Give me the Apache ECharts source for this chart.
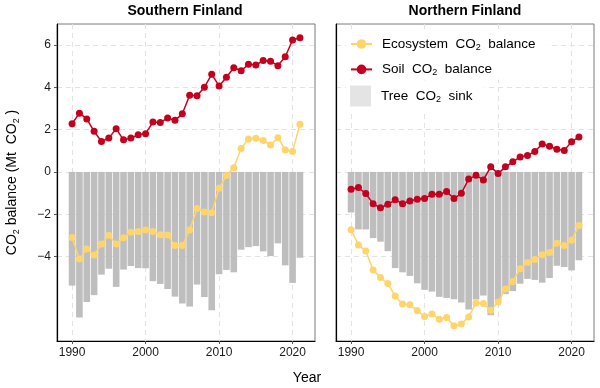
<!DOCTYPE html>
<html><head><meta charset="utf-8">
<script src="https://cdn.jsdelivr.net/npm/echarts@6/dist/echarts.min.js"></script>
<style>html,body{margin:0;padding:0;background:#fff}#c{width:600px;height:388px}</style>
</head><body><div id="c"></div>
<script>
const years = [1990,1991,1992,1993,1994,1995,1996,1997,1998,1999,2000,2001,2002,2003,2004,2005,2006,2007,2008,2009,2010,2011,2012,2013,2014,2015,2016,2017,2018,2019,2020,2021];
const southSoil = [2.28,2.78,2.51,1.92,1.44,1.60,2.04,1.52,1.60,1.76,1.81,2.36,2.34,2.55,2.44,2.75,3.63,3.61,4.01,4.62,4.07,4.48,4.93,4.79,5.09,5.06,5.27,5.24,5.03,5.45,6.24,6.35];
const southEco = [-3.10,-4.12,-3.65,-3.93,-3.41,-3.00,-3.41,-3.11,-2.85,-2.82,-2.75,-2.82,-2.97,-2.99,-3.48,-3.48,-2.75,-1.73,-1.90,-1.93,-0.77,-0.17,0.20,1.11,1.56,1.59,1.49,1.27,1.62,1.04,0.97,2.26];
const southTree = [-5.38,-6.89,-6.15,-5.83,-4.86,-4.58,-5.44,-4.62,-4.45,-4.55,-4.56,-5.17,-5.30,-5.54,-5.90,-6.23,-6.37,-5.33,-5.92,-6.54,-4.84,-4.64,-4.75,-3.68,-3.56,-3.51,-3.76,-3.98,-3.38,-4.42,-5.25,-4.06];
const northSoil = [-0.82,-0.74,-1.02,-1.51,-1.70,-1.53,-1.32,-1.50,-1.37,-1.29,-1.26,-1.06,-1.06,-0.93,-1.26,-1.01,-0.34,-0.16,-0.38,0.24,-0.08,0.24,0.48,0.71,0.78,0.97,1.32,1.21,1.07,1.02,1.43,1.65];
const northEco = [-2.74,-3.46,-3.74,-4.64,-5.00,-5.28,-5.87,-6.25,-6.29,-6.56,-6.84,-6.72,-6.97,-6.89,-7.28,-7.19,-6.86,-6.20,-6.23,-6.54,-6.15,-5.54,-5.19,-4.58,-4.28,-4.14,-3.92,-3.81,-3.37,-3.48,-3.23,-2.53];
const northTree = [-1.92,-2.72,-2.72,-3.13,-3.30,-3.75,-4.55,-4.75,-4.92,-5.27,-5.58,-5.66,-5.91,-5.96,-6.02,-6.18,-6.51,-6.04,-5.85,-6.78,-6.07,-5.78,-5.64,-5.29,-5.06,-5.11,-5.24,-5.02,-4.44,-4.50,-4.66,-4.18];
const panelTitles = ['Southern Finland','Northern Finland'];
const yTicks = [-4,-2,0,2,4,6];
const xTicks = [1990,2000,2010,2020];

const FONT = 'Liberation Sans, Arial, sans-serif';
const RED = '#c4001f', YEL = '#fed46b', GREY = '#bebebe';
const pair = (arr) => years.map((y,i)=>[y,arr[i]]);
const fmtNum = v => v < 0 ? '\u2212' + Math.abs(v) : String(v);

const grids = [
  {left:57, top:24, width:258, height:317},
  {left:336, top:24, width:258, height:317}
];
const gridOpts = grids.map(g => Object.assign({}, g, {show:true, borderColor:'#7a7a7a', borderWidth:1, backgroundColor:'transparent', containLabel:false}));

const xAxes = [0,1].map(i => ({
  type:'value', gridIndex:i, min:1987.95, max:2023.05,
  axisLine:{show:true, onZero:false, lineStyle:{color:'#000', width:1.2}},
  axisTick:{show:true, length:3, customValues:xTicks, lineStyle:{color:'#555'}},
  axisLabel:{customValues:xTicks, color:'#1a1a1a', fontSize:12, fontFamily:FONT, margin:6, formatter: v => String(v)},
  splitLine:{show:true, lineStyle:{color:'#e3e3e3', type:[5,4], width:1.1}}
}));
const yAxes = [0,1].map(i => ({
  type:'value', gridIndex:i, min:-8, max:7,
  axisLine:{show:true, onZero:false, lineStyle:{color:'#000', width:1.2}},
  axisTick:{show:i===0, length:3, customValues:yTicks, lineStyle:{color:'#555'}},
  axisLabel:{show:i===0, customValues:yTicks, color:'#1a1a1a', fontSize:12, fontFamily:FONT, margin:6, formatter:fmtNum},
  splitLine:{show:true, lineStyle:{color:'#e3e3e3', type:[5,4], width:1.1}},
  name: i===0 ? '{n|CO}{s|2}{n| balance (Mt  CO}{s|2}{n| )}' : '',
  nameLocation:'middle', nameRotate:90, nameGap:36,
  nameTextStyle:{fontFamily:FONT, color:'#000', rich:{
    n:{fontSize:14, fontFamily:FONT, color:'#000', lineHeight:18, verticalAlign:'middle'},
    s:{fontSize:9, fontFamily:FONT, color:'#000', lineHeight:18, verticalAlign:'bottom', padding:[9,0,0,0]}
  }}
}));

const series = [];
[[southTree,southSoil,southEco],[northTree,northSoil,northEco]].forEach((d,i) => {
  series.push({name:'Tree CO2 sink', type:'bar', xAxisIndex:i, yAxisIndex:i, data:pair(d[0]), barWidth:6.6, itemStyle:{color:GREY}, z:2});
  series.push({name:'Soil CO2 balance', type:'line', xAxisIndex:i, yAxisIndex:i, data:pair(d[1]), symbol:'circle', symbolSize:7, lineStyle:{color:RED, width:1.5}, itemStyle:{color:RED}, z:4});
  series.push({name:'Ecosystem CO2 balance', type:'line', xAxisIndex:i, yAxisIndex:i, data:pair(d[2]), symbol:'circle', symbolSize:7, lineStyle:{color:YEL, width:1.5}, itemStyle:{color:YEL}, z:3});
});

const legendRich = {
  g:{width:5},
  n:{fontSize:13.5, fontFamily:FONT, color:'#000', lineHeight:16},
  s:{fontSize:9, fontFamily:FONT, color:'#000', lineHeight:16, verticalAlign:'bottom', padding:[8,0,0,0]}
};
const legendFmt = name => {
  if (name === 'Ecosystem CO2 balance') return '{g|}{n|Ecosystem  CO}{s|2}{n|  balance}';
  if (name === 'Soil CO2 balance') return '{g|}{n|Soil  CO}{s|2}{n|  balance}';
  return '{g|}{n|Tree  CO}{s|2}{n|  sink}';
};

const option = {
  animation:false,
  backgroundColor:'#fff',
  textStyle:{fontFamily:FONT},
  grid: gridOpts,
  xAxis: xAxes,
  yAxis: yAxes,
  series: series,
  legend: [
    {orient:'vertical', left:346, top:30, itemWidth:21, itemHeight:12, itemGap:8.4, padding:[5,12,2,4],
     backgroundColor:'#fff', selectedMode:false,
     data:['Ecosystem CO2 balance','Soil CO2 balance'], formatter:legendFmt, textStyle:{rich:legendRich, fontSize:13}},
    {orient:'vertical', left:346, top:80.5, itemWidth:21, itemHeight:21, padding:[5,12,5,4],
     backgroundColor:'#fff', selectedMode:false,
     data:[{name:'Tree CO2 sink', icon:'rect', itemStyle:{color:'#e4e4e4'}}], formatter:legendFmt, textStyle:{rich:legendRich, fontSize:13}}
  ],
  graphic: [
    {type:'text', x:185, y:11, style:{text:panelTitles[0], align:'center', verticalAlign:'middle', font:'bold 14px ' + FONT, fill:'#000'}},
    {type:'text', x:465, y:11, style:{text:panelTitles[1], align:'center', verticalAlign:'middle', font:'bold 14px ' + FONT, fill:'#000'}},
    {type:'text', x:307, y:378, style:{text:'Year', align:'center', verticalAlign:'middle', font:'14px ' + FONT, fill:'#000'}}
  ]
};
const chart = echarts.init(document.getElementById('c'), null, {renderer:'canvas'});
chart.setOption(option);
</script></body></html>
